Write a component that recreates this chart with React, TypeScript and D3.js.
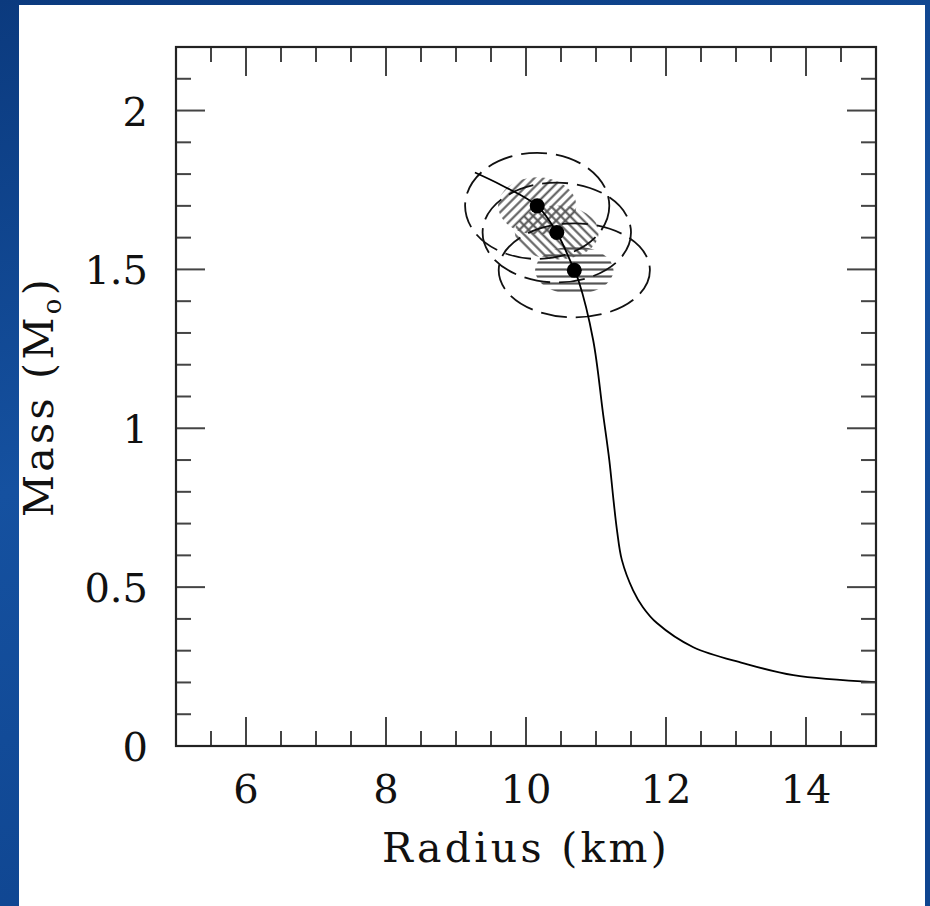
import * as d3 from 'd3'

// mass-radius curve (km, solar masses)
const curveRadius = [9.27, 9.65, 10.16, 10.44, 10.69, 10.75, 10.96, 11.1, 11.19, 11.25, 11.3, 11.37, 11.53, 11.67, 11.87, 12.39, 13.1, 13.82, 15]
const curveMass = [1.805, 1.765, 1.7, 1.616, 1.497, 1.465, 1.277, 1.047, 0.9, 0.774, 0.679, 0.585, 0.49, 0.437, 0.387, 0.311, 0.261, 0.223, 0.201]

// three measured stars
const starRadius = [10.16, 10.44, 10.69]
const starMass = [1.7, 1.616, 1.497]
const errRadius = [1.03, 1.06, 1.08]
const errMass = [0.167, 0.157, 0.148]
const hatchRadius = [0.56, 0.6, 0.56]
const hatchMass = [0.09, 0.085, 0.075]
const hatchKind = ['back', 'fwd', 'horiz']

const xTicks = [6, 8, 10, 12, 14]
const yTicks = [0, 0.5, 1, 1.5, 2]

const W = 930
const H = 906
const margin = { top: 47, right: 54, bottom: 160, left: 176 }
const font = '"DejaVu Serif", serif'

const App = () => {
	const x = d3.scaleLinear().domain([5, 15]).range([margin.left, W - margin.right])
	const y = d3.scaleLinear().domain([0, 2.2]).range([H - margin.bottom, margin.top])
	const [x0, x1] = x.range()
	const [y0, y1] = y.range()

	const line = d3
		.line<number>()
		.x((d, i) => x(curveRadius[i]))
		.y((d, i) => y(curveMass[i]))
		.curve(d3.curveCatmullRom.alpha(0.5))

	const xMinor = d3.range(5.5, 15, 0.5).filter((v) => !xTicks.includes(Math.round(v * 10) / 10))
	const yMinor = d3.range(1, 22).map((v) => v / 10).filter((v) => !yTicks.includes(v))

	const major = 29
	const minor = 15
	const tickColor = '#444'

	return (
		<svg width={W} height={H} style={{ position: 'absolute', left: 0, top: 0 }}>
			<defs>
				<linearGradient id="bg" x1="0" y1="0" x2="0.3" y2="1">
					<stop offset="0" stopColor="#0b3a7e" />
					<stop offset="0.5" stopColor="#1551a0" />
					<stop offset="1" stopColor="#0f4590" />
				</linearGradient>
				<pattern id="hatch-back" width="6.5" height="6.5" patternUnits="userSpaceOnUse" patternTransform="rotate(-45)">
					<line x1="0" y1="3.25" x2="6.5" y2="3.25" stroke="#555" strokeWidth="2" />
				</pattern>
				<pattern id="hatch-fwd" width="6.5" height="6.5" patternUnits="userSpaceOnUse" patternTransform="rotate(45)">
					<line x1="0" y1="3.25" x2="6.5" y2="3.25" stroke="#555" strokeWidth="2" />
				</pattern>
				<pattern id="hatch-horiz" width="7" height="7" patternUnits="userSpaceOnUse">
					<line x1="0" y1="3.5" x2="7" y2="3.5" stroke="#555" strokeWidth="2.2" />
				</pattern>
			</defs>

			{/* slide background */}
			<rect x={0} y={0} width={W} height={H} fill="url(#bg)" />
			<rect x={19} y={5} width={906} height={H - 5} fill="#fff" />

			{/* hatched best-fit regions */}
			{starRadius.map((r, i) => (
				<ellipse
					key={'h' + i}
					cx={x(r)}
					cy={y(starMass[i])}
					rx={x(r + hatchRadius[i]) - x(r)}
					ry={y(starMass[i]) - y(starMass[i] + hatchMass[i])}
					fill={`url(#hatch-${hatchKind[i]})`}
				/>
			))}

			{/* dashed error ellipses */}
			{starRadius.map((r, i) => (
				<ellipse
					key={'e' + i}
					cx={x(r)}
					cy={y(starMass[i])}
					rx={x(r + errRadius[i]) - x(r)}
					ry={y(starMass[i]) - y(starMass[i] + errMass[i])}
					fill="none"
					stroke="#111"
					strokeWidth={1.8}
					strokeDasharray="26 9"
				/>
			))}

			{/* M-R curve */}
			<path d={line(curveRadius) || ''} fill="none" stroke="#000" strokeWidth={1.8} />

			{starRadius.map((r, i) => (
				<circle key={'s' + i} cx={x(r)} cy={y(starMass[i])} r={7.5} fill="#000" />
			))}

			{/* ticks on all four sides */}
			<g stroke={tickColor} strokeWidth={2}>
				{xTicks.map((t) => (
					<g key={'xt' + t}>
						<line x1={x(t)} x2={x(t)} y1={y0} y2={y0 - major} />
						<line x1={x(t)} x2={x(t)} y1={y1} y2={y1 + major} />
					</g>
				))}
				{xMinor.map((t) => (
					<g key={'xm' + t}>
						<line x1={x(t)} x2={x(t)} y1={y0} y2={y0 - minor} />
						<line x1={x(t)} x2={x(t)} y1={y1} y2={y1 + minor} />
					</g>
				))}
				{yTicks.map((t) => (
					<g key={'yt' + t}>
						<line x1={x0} x2={x0 + major} y1={y(t)} y2={y(t)} />
						<line x1={x1} x2={x1 - major} y1={y(t)} y2={y(t)} />
					</g>
				))}
				{yMinor.map((t) => (
					<g key={'ym' + t}>
						<line x1={x0} x2={x0 + minor} y1={y(t)} y2={y(t)} />
						<line x1={x1} x2={x1 - minor} y1={y(t)} y2={y(t)} />
					</g>
				))}
			</g>

			{/* frame */}
			<rect x={x0} y={y1} width={x1 - x0} height={y0 - y1} fill="none" stroke="#222" strokeWidth={2.2} />

			{/* tick labels */}
			<g fontFamily={font} fontSize={40} fill="#111">
				{xTicks.map((t) => (
					<text key={'xl' + t} x={x(t)} y={y0 + 57} textAnchor="middle">
						{t}
					</text>
				))}
				{yTicks.map((t) => (
					<text key={'yl' + t} x={x0 - 28} y={y(t) + 15} textAnchor="end">
						{t}
					</text>
				))}
			</g>

			{/* axis titles */}
			<text
				x={(x0 + x1) / 2}
				y={862}
				textAnchor="middle"
				fontFamily={font}
				fontSize={41}
				letterSpacing={3.3}
				fill="#111"
			>
				Radius (km)
			</text>
			<text
				transform={`translate(53,${(y0 + y1) / 2}) rotate(-90)`}
				textAnchor="middle"
				fontFamily={font}
				fontSize={41}
				letterSpacing={3.3}
				fill="#111"
			>
				Mass (M
				<tspan fontSize={26} dy={8}>
					o
				</tspan>
				<tspan dy={-8}>)</tspan>
			</text>
		</svg>
	)
}

export default App
